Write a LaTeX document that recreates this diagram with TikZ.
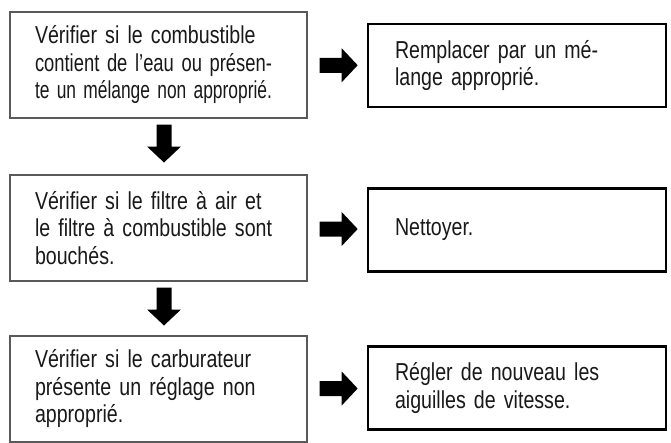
\documentclass[tikz,border=0pt]{standalone}
\usepackage{fontspec}
\setmainfont{Liberation Sans}[FakeStretch=0.8]
\usepackage{graphicx}
\usetikzlibrary{calc}
\newlength{\jlw}
\newcommand{\jl}[2][237pt]{\settowidth{\jlw}{#2}\ifdim\jlw>#1\relax\resizebox{#1}{\height}{#2}\else\makebox[#1][s]{#2}\fi}
\tikzset{
  boxtext/.style={font=\fontsize{24.5}{27.5}\selectfont, text=black!90, align=left},
  lbox/.style={boxtext, draw=black!65, line width=1.3pt, minimum width=297pt, minimum height=106pt,
    text width=247pt, inner xsep=25pt, inner ysep=0pt},
  rbox/.style={boxtext, draw=black, line width=2.6pt, minimum width=298pt, minimum height=83pt,
    text width=244pt, inner xsep=27pt, inner ysep=0pt},
  barrow/.pic={\fill[black] (-19pt,-7.5pt) -- (3pt,-7.5pt) -- (3pt,-17pt) -- (19pt,0pt)
      -- (3pt,17pt) -- (3pt,7.5pt) -- (-19pt,7.5pt) -- cycle;}
}
\begin{document}
\begin{tikzpicture}[x=1pt, y=-1pt]
  \fill[white] (0,0) rectangle (671,442);
  \useasboundingbox (0,0) rectangle (671,442);

  \node[lbox] (l1) at (158.5,65) {\jl{Vérifier si le combustible}\\\jl{contient de l'eau ou présen-}\\\jl{te un mélange non approprié.}};
  \node[lbox] (l2) at (158.5,228) {\jl{Vérifier si le filtre à air et}\\\jl{le filtre à combustible sont}\\bouchés.};
  \node[lbox] (l3) at (158.5,389) {\jl{Vérifier si le carburateur}\\\jl{présente un réglage non}\\approprié.};

  \node[rbox] (r1) at (517,65.5) {\jl[233pt]{Remplacer par un mé-}\\lange approprié.};
  \node[rbox] (r2) at (517,230) {Nettoyer.};
  \node[rbox] (r3) at (517,388) {Régler de nouveau les\\aiguilles de vitesse.};

  \pic at ($(l1.east)!0.5!(r1.west)+(1.5,0)$) {barrow};
  \pic at ($(l2.east)!0.5!(r2.west)+(1.5,0)$) {barrow};
  \pic at ($(l3.east)!0.5!(r3.west)+(1.5,0)$) {barrow};
  \pic[rotate=-90] at ($(l1.south)!0.5!(l2.north)+(5.5,-3)$) {barrow};
  \pic[rotate=-90] at ($(l2.south)!0.5!(l3.north)+(5.5,-2)$) {barrow};
\end{tikzpicture}
\end{document}
